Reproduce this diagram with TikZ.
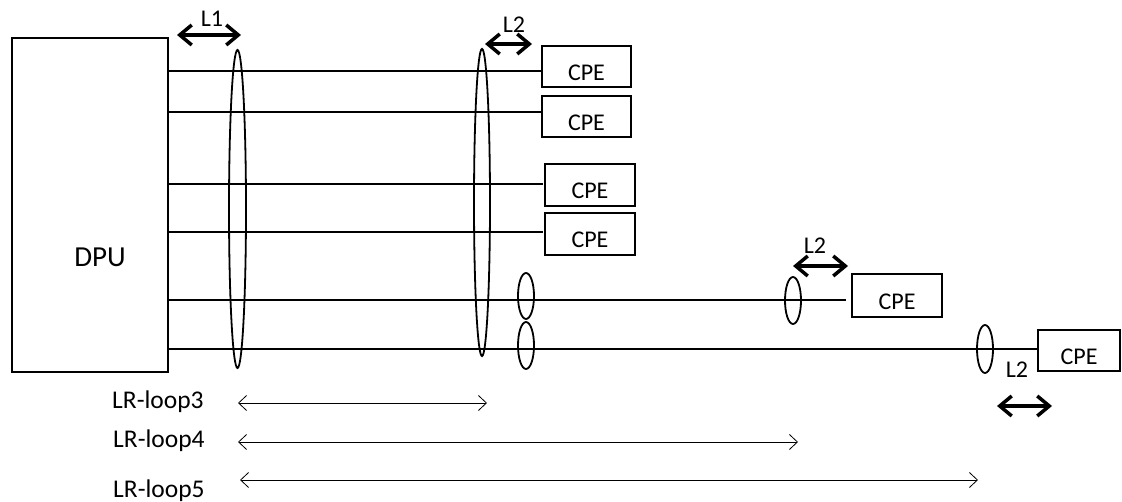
\documentclass[tikz,border=0pt]{standalone}
\usepackage{fontspec}
\setmainfont{Carlito}
\usetikzlibrary{arrows.meta}
\tikzset{
  wire/.style={line width=2pt},
  loopring/.style={line width=1.8pt},
  cpebox/.style={draw, line width=1.8pt, minimum height=41pt, inner sep=0pt,
    font=\fontsize{24}{28}\selectfont, text height=27.5pt, text depth=0pt},
  seglen/.style={line width=3.5pt, {Straight Barb[length=12pt,width=20pt]}-{Straight Barb[length=12pt,width=20pt]}},
  looplen/.style={line width=0.8pt, {Straight Barb[length=8pt,width=15pt]}-{Straight Barb[length=8pt,width=15pt]}},
  lbl/.style={font=\fontsize{24}{28}\selectfont, inner sep=0pt},
  reachlbl/.style={font=\fontsize{25.5}{30}\selectfont, inner sep=0pt, anchor=base west},
}
\begin{document}
\begin{tikzpicture}[x=1pt, y=-1pt]
\useasboundingbox (0,0) rectangle (1122,502);

% distribution point unit
\node[draw, line width=2pt, minimum width=156pt, minimum height=334pt, inner sep=0pt] (dpu) at (90,205) {};
\node[font=\fontsize{29}{34}\selectfont, inner sep=0pt] (dputxt) at (100,257) {DPU};

% customer premises equipment
\node[cpebox, minimum width=89pt] (c1) at (586.5,66.5) {CPE};
\node[cpebox, minimum width=89pt] (c2) at (586.5,116.5) {CPE};
\node[cpebox, minimum width=90pt, minimum height=42pt] (c3) at (590,185) {CPE};
\node[cpebox, minimum width=90pt, minimum height=42pt] (c4) at (590,234) {CPE};
\node[cpebox, minimum width=90pt, minimum height=43pt] (c5) at (897,295.5) {CPE};
\node[cpebox, minimum width=82pt] (c6) at (1079,350.5) {CPE};

% line ports on the DPU
\coordinate (d1) at (168,70.7);
\coordinate (d2) at (168,111.7);
\coordinate (d3) at (168,184.5);
\coordinate (d4) at (168,232);
\coordinate (d5) at (168,300);
\coordinate (d6) at (168,349.5);
\coordinate (e3) at (543,184.5);
\coordinate (e4) at (543,232);
\coordinate (e5) at (846,300);

% subscriber lines
\draw[wire] (d1) -- (d1 -| c1.west);
\draw[wire] (d2) -- (d2 -| c2.west);
\draw[wire] (d3) -- (e3);
\draw[wire] (d4) -- (e4);
\draw[wire] (d5) -- (e5);
\draw[wire] (d6) -- (d6 -| c6.west);

% cable bundles
\draw[loopring] (237.5,209) ellipse [x radius=8.5pt, y radius=159pt];
\draw[loopring] (482,202.5) ellipse [x radius=8pt, y radius=153.5pt];
\draw[loopring] (526,296) ellipse [x radius=8pt, y radius=23pt];
\draw[loopring] (526,345.5) ellipse [x radius=8pt, y radius=23.5pt];
\draw[loopring] (793,300.5) ellipse [x radius=8pt, y radius=23.5pt];
\draw[loopring] (985,349) ellipse [x radius=8pt, y radius=24pt];

% segment lengths
\coordinate (l1a) at (177,35);
\coordinate (l1b) at (241,35);
\draw[seglen] (l1a) -- (l1b);
\node[lbl] (l1) at (212,19) {L1};

\coordinate (l2a) at (485,44);
\coordinate (l2b) at (532,44);
\draw[seglen] (l2a) -- (l2b);
\node[lbl] (l2top) at (514,25) {L2};

\coordinate (l2c) at (793,266);
\coordinate (l2d) at (848,266);
\draw[seglen] (l2c) -- (l2d);
\node[lbl] (l2mid) at (815,246) {L2};

\coordinate (l2e) at (997,406);
\coordinate (l2f) at (1052,406);
\draw[seglen] (l2e) -- (l2f);
\node[lbl] (l2bot) at (1017,370) {L2};

% loop reaches
\node[reachlbl] (r3) at (112,409) {LR-loop3};
\node[reachlbl] (r4) at (113,447) {LR-loop4};
\node[reachlbl] (r5) at (113,497.5) {LR-loop5};
\coordinate (r3a) at (238,403);
\coordinate (r3b) at (487,403);
\coordinate (r4a) at (238,442);
\coordinate (r4b) at (798,442);
\coordinate (r5a) at (240,480);
\coordinate (r5b) at (978,480);
\draw[looplen] (r3a) -- (r3b);
\draw[looplen] (r4a) -- (r4b);
\draw[looplen] (r5a) -- (r5b);
\end{tikzpicture}
\end{document}
